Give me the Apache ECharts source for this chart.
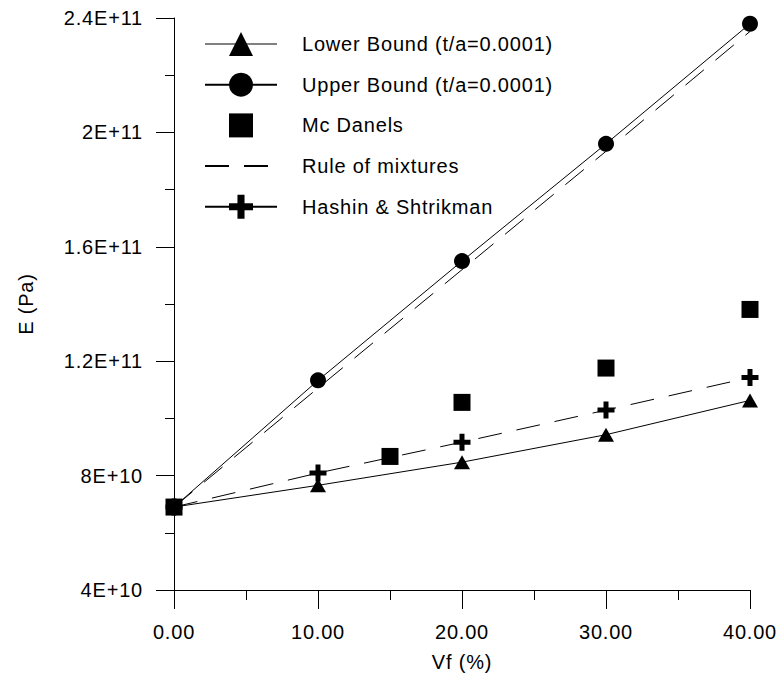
<!DOCTYPE html>
<html>
<head>
<meta charset="utf-8">
<script src="https://cdn.jsdelivr.net/npm/echarts@6/dist/echarts.min.js"></script>
<style>
  html, body { margin: 0; padding: 0; background: #fff; }
  #chart { width: 779px; height: 677px; letter-spacing: 0.8px; }
</style>
</head>
<body>
<div id="chart"></div>
<script>
// Volume fraction of fibre (%) and Young's modulus estimates (Pa)
const vf = [0, 10, 20, 30, 40];
const lowerBound = [6.9e10, 7.66e10, 8.47e10, 9.43e10, 10.63e10];
const upperBound = [6.9e10, 11.33e10, 15.5e10, 19.6e10, 23.8e10];
const ruleOfMixtures = [6.9e10, 11.06e10, 15.2e10, 19.34e10, 23.53e10];
const hashinShtrikman = [6.9e10, 8.09e10, 9.17e10, 10.29e10, 11.43e10];

// Measured points (McDanels)
const mcDanelsVf = [0, 15, 20, 30, 40];
const mcDanelsE = [6.9e10, 8.67e10, 10.56e10, 11.76e10, 13.81e10];

// Axis tick labels
const xTickLabels = ['0.00', '10.00', '20.00', '30.00', '40.00'];
const yTickLabels = ['4E+10', '8E+10', '1.2E+11', '1.6E+11', '2E+11', '2.4E+11'];

const names = {
  lower: 'Lower Bound (t/a=0.0001)',
  upper: 'Upper Bound (t/a=0.0001)',
  mc: 'Mc Danels',
  rom: 'Rule of mixtures',
  hs: 'Hashin & Shtrikman'
};

const pairs = (xs, ys) => xs.map((x, i) => [x, ys[i]]);
const FONT = "'Liberation Sans', Arial, sans-serif";
const PLUS = 'path://M6,0H11V6H17V11H11V17H6V11H0V6H6Z';

const chart = echarts.init(document.getElementById('chart'), null, { renderer: 'svg' });

chart.setOption({
  backgroundColor: '#ffffff',
  animation: false,
  textStyle: { fontFamily: FONT, color: '#000' },
  grid: { left: 174, right: 29, top: 18, bottom: 85, containLabel: false },
  legend: {
    orient: 'vertical',
    left: 204,
    top: 32,
    padding: 0,
    itemWidth: 72,
    itemHeight: 30,
    itemGap: 16.7,
    selectedMode: false,
    textStyle: { fontFamily: FONT, fontSize: 20, color: '#000', padding: [0, 0, 0, 20] },
    data: [
      { name: names.lower, lineStyle: { color: '#808080' } },
      { name: names.upper },
      { name: names.mc },
      { name: names.rom, itemStyle: { opacity: 0 } },
      { name: names.hs, lineStyle: { type: 'solid' } }
    ]
  },
  xAxis: {
    type: 'value',
    min: 0,
    max: 40,
    interval: 10,
    name: 'Vf (%)',
    nameLocation: 'middle',
    nameGap: 62,
    nameTextStyle: { fontFamily: FONT, fontSize: 20, color: '#000' },
    axisLine: { show: true, onZero: false, lineStyle: { color: '#000', width: 1 } },
    axisTick: { show: true, inside: false, length: 19, lineStyle: { color: '#000', width: 1 } },
    minorTick: { show: true, splitNumber: 2, length: 10, lineStyle: { color: '#000', width: 1 } },
    splitLine: { show: false },
    axisLabel: {
      margin: 32,
      fontFamily: FONT,
      fontSize: 20,
      color: '#000',
      formatter: (v, i) => xTickLabels[i]
    }
  },
  yAxis: {
    type: 'value',
    min: 4e10,
    max: 2.4e11,
    interval: 4e10,
    name: 'E (Pa)',
    nameLocation: 'middle',
    nameGap: 138,
    nameTextStyle: { fontFamily: FONT, fontSize: 20, color: '#000' },
    axisLine: { show: true, onZero: false, lineStyle: { color: '#000', width: 1 } },
    axisTick: { show: true, inside: false, length: 18, lineStyle: { color: '#000', width: 1 } },
    minorTick: { show: true, splitNumber: 2, length: 9, lineStyle: { color: '#000', width: 1 } },
    splitLine: { show: false },
    axisLabel: {
      margin: 31,
      fontFamily: FONT,
      fontSize: 20,
      color: '#000',
      formatter: (v, i) => yTickLabels[i]
    }
  },
  series: [
    {
      name: names.rom,
      type: 'line',
      data: pairs(vf, ruleOfMixtures),
      symbol: 'none',
      lineStyle: { color: '#000', width: 1, type: [24, 15] },
      itemStyle: { color: '#000' },
      z: 2
    },
    {
      name: names.hs,
      type: 'line',
      data: pairs(vf, hashinShtrikman),
      symbol: PLUS,
      symbolSize: 17,
      lineStyle: { color: '#000', width: 1, type: [24, 15] },
      itemStyle: { color: '#000' },
      z: 3
    },
    {
      name: names.upper,
      type: 'line',
      data: pairs(vf, upperBound),
      symbol: 'circle',
      symbolSize: 16,
      lineStyle: { color: '#000', width: 1 },
      itemStyle: { color: '#000' },
      z: 4
    },
    {
      name: names.lower,
      type: 'line',
      data: pairs(vf, lowerBound),
      symbol: 'triangle',
      symbolSize: [16, 14],
      lineStyle: { color: '#000', width: 1 },
      itemStyle: { color: '#000' },
      z: 5
    },
    {
      name: names.mc,
      type: 'line',
      data: pairs(mcDanelsVf, mcDanelsE),
      symbol: 'rect',
      symbolSize: 17,
      lineStyle: { opacity: 0, width: 0 },
      itemStyle: { color: '#000' },
      z: 6
    }
  ]
});
</script>
</body>
</html>
